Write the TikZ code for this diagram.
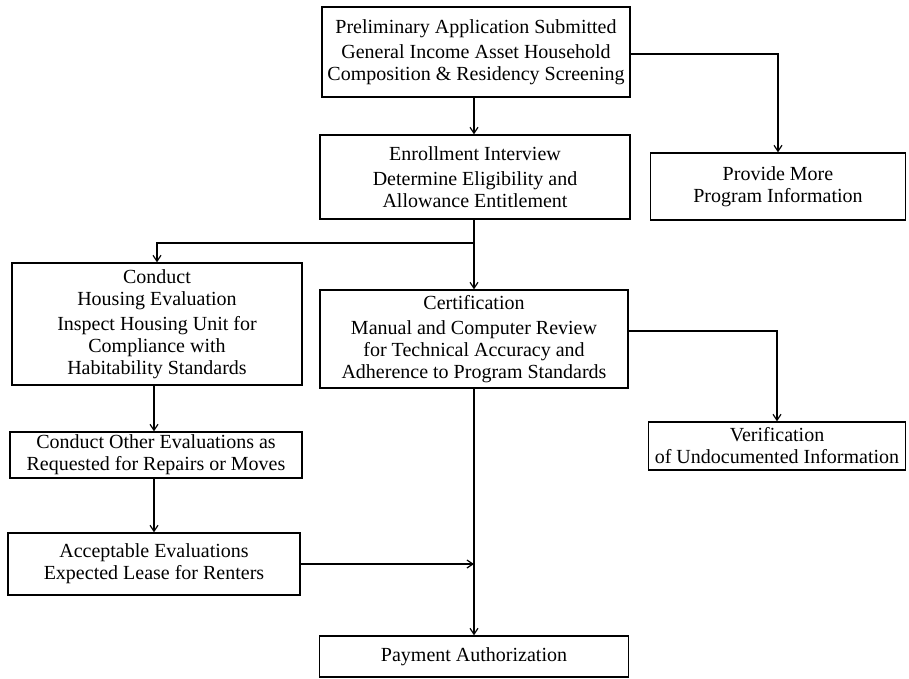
\documentclass[tikz,border=0pt]{standalone}
\usepackage{fontspec}
\setmainfont{Liberation Serif}
\usetikzlibrary{arrows.meta,calc}
\begin{document}
\begin{tikzpicture}[x=1pt,y=-1pt,
  box/.style={draw, line width=1.3pt, align=center, inner sep=0pt,
    font=\fontsize{20}{22}\selectfont},
  conn/.style={line width=1.5pt, -{Straight Barb[length=6pt,width=8pt,line width=1.2pt]}}]
\useasboundingbox (0,0) rectangle (909,679);
\node[box, minimum width=308pt, minimum height=90pt] (b1) at (476,52)
  {Preliminary Application Submitted\\[3pt]General Income Asset Household\\Composition \& Residency Screening};
\node[box, minimum width=310pt, minimum height=84pt] (b2) at (475,177)
  {Enrollment Interview\\[3pt]Determine Eligibility and\\Allowance Entitlement};
\node[box, minimum width=255pt, minimum height=67pt] (b3) at (778,186.5)
  {Provide More\\Program Information};
\node[box, minimum width=290pt, minimum height=122pt] (b4) at (157,324)
  {Conduct\\Housing Evaluation\\[3pt]Inspect Housing Unit for\\Compliance with\\Habitability Standards};
\node[box, minimum width=308pt, minimum height=98pt] (b5) at (474,339)
  {Certification\\[3pt]Manual and Computer Review\\for Technical Accuracy and\\Adherence to Program Standards};
\node[box, minimum width=257pt, minimum height=48pt] (b6) at (777,446)
  {Verification\\of Undocumented Information};
\node[box, minimum width=292pt, minimum height=46pt] (b7) at (156,455)
  {Conduct Other Evaluations as\\Requested for Repairs or Moves};
\node[box, minimum width=292pt, minimum height=62pt] (b8) at (154,564)
  {Acceptable Evaluations\\Expected Lease for Renters};
\node[box, minimum width=309pt, minimum height=41pt] (b9) at (474,656.5)
  {Payment Authorization};
\coordinate (j1) at (b5.north |- 0,243);
\draw[conn] (b1.south -| b5.north) -- (b2.north -| b5.north);
\draw[conn] ([yshift=-2pt]b1.east) -| (b3.north);
\draw[conn] (b2.south -| b5.north) -- (b5.north);
\draw[conn] (j1) -| (b4.north);
\draw[conn] ([yshift=8pt]b5.east) -| (b6.north);
\draw[conn] (b4.south -| b8.north) -- (b7.north -| b8.north);
\draw[conn] (b7.south -| b8.north) -- (b8.north);
\draw[conn] (b5.south) -- (b9.north);
\draw[conn] (b8.east) -- (b8.east -| b5.south);
\end{tikzpicture}
\end{document}
